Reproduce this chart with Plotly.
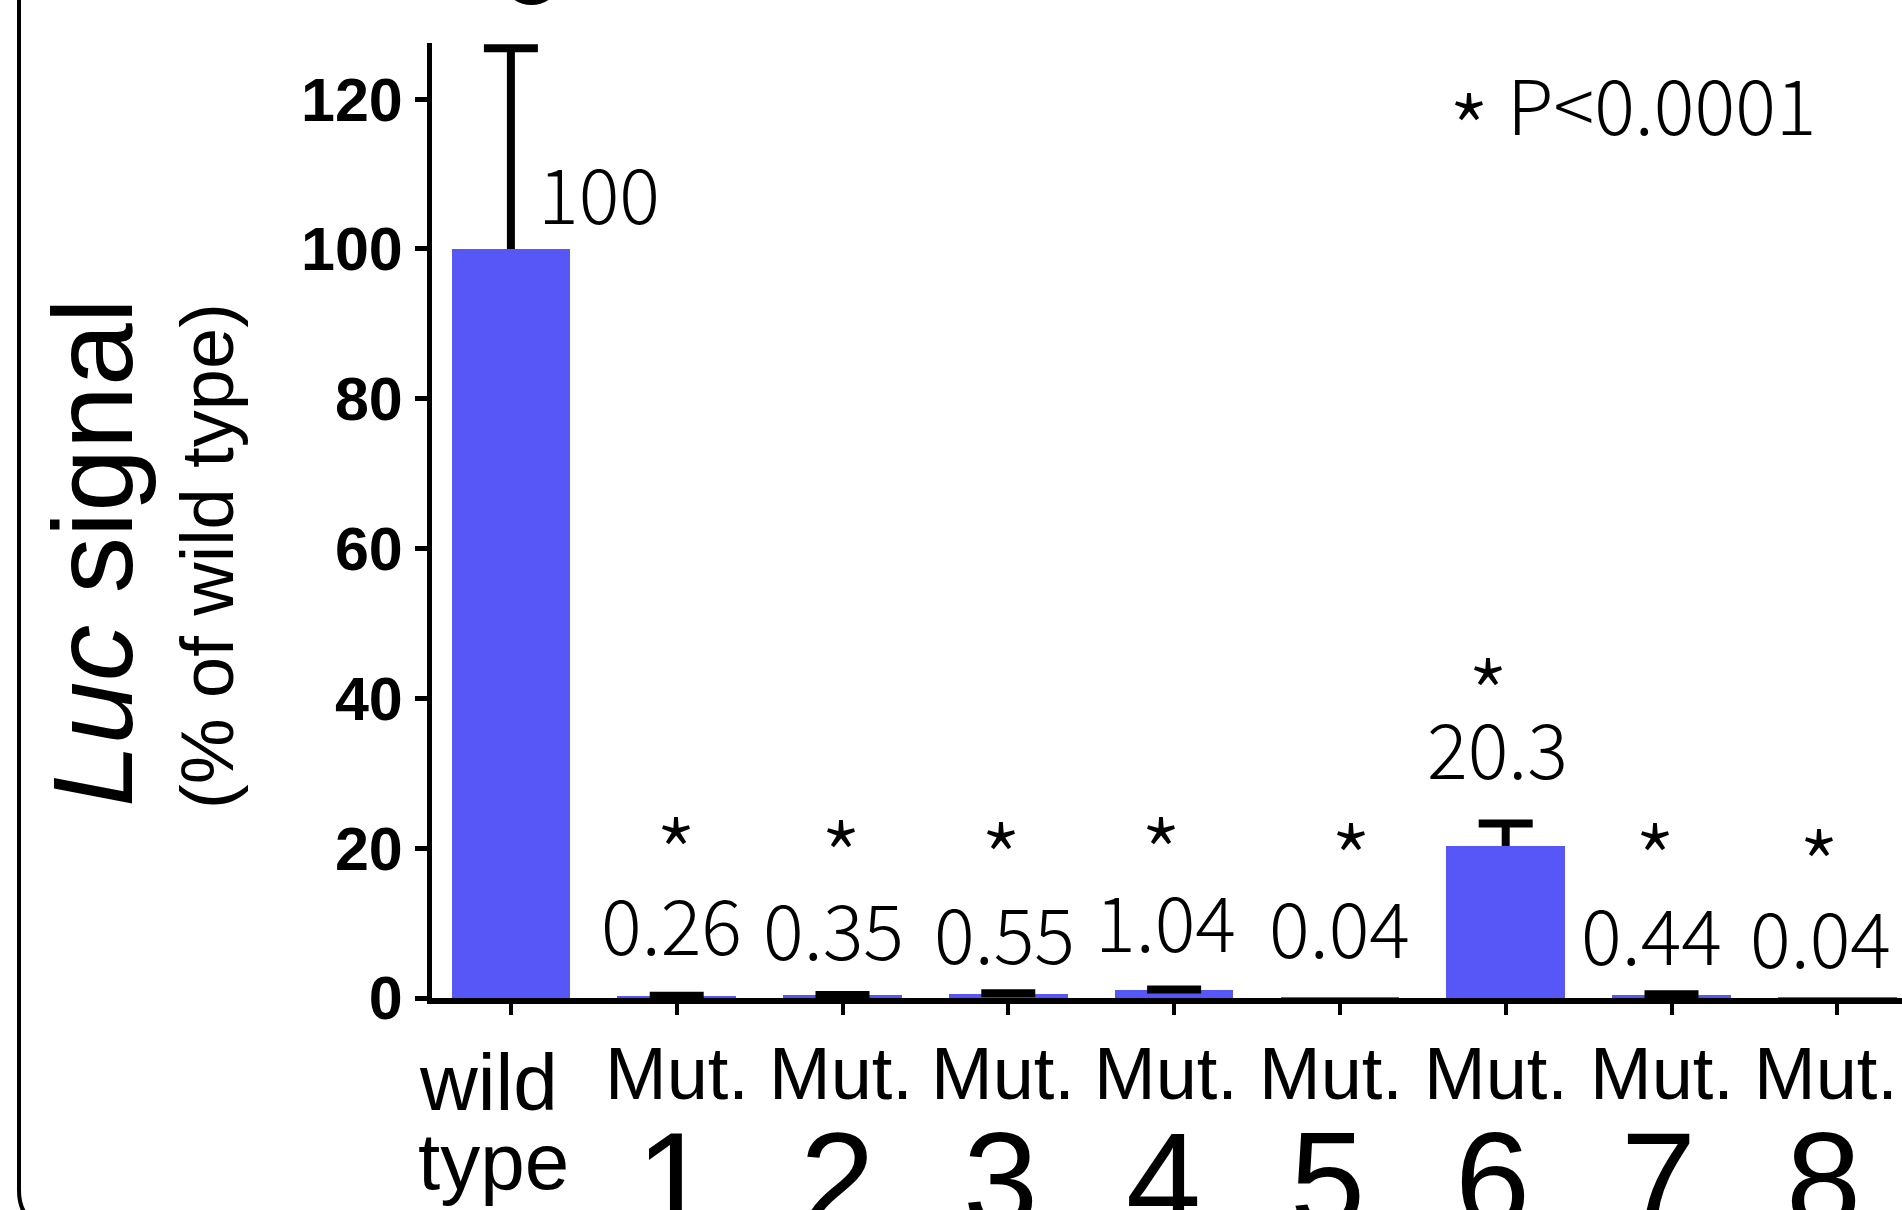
import plotly.graph_objects as go

# ---------------- data ----------------
categories = ["wild type", "Mut. 1", "Mut. 2", "Mut. 3", "Mut. 4",
              "Mut. 5", "Mut. 6", "Mut. 7", "Mut. 8"]
values = [100, 0.26, 0.35, 0.55, 1.04, 0.04, 20.3, 0.44, 0.04]
errors_up = [26.8, 0.05, 0.05, 0.1, 0.1, 0.0, 3.0, 0.05, 0.0]
value_labels = ["100", "0.26", "0.35", "0.55", "1.04", "0.04", "20.3", "0.44", "0.04"]
significant = [False, True, True, True, True, True, True, True, True]
tick_line1 = ["wild", "Mut.", "Mut.", "Mut.", "Mut.", "Mut.", "Mut.", "Mut.", "Mut."]
tick_line2 = ["type", "1", "2", "3", "4", "5", "6", "7", "8"]
y_ticks = [0, 20, 40, 60, 80, 100, 120]
y_max = 127.5
p_note = "P<0.0001"
y_title_main = "<i>Luc</i> signal"
y_title_sub = "(% of wild type)"

# ---------------- layout geometry (pixels) ----------------
W, H = 1902, 1210
L, T = 432, 43
B_PX = 998                      # bottom of plot area
PW = W - L
PH = B_PX - T
UNIT = 165.8                    # px per category
xr0 = -0.5 + (L - 428) / UNIT
xr1 = xr0 + PW / UNIT


def py(ypx):
    return (B_PX - ypx) / PH


def pxp(xpx):
    return (xpx - L) / PW


BAR_COLOR = "#5757F7"
VAL_FONT = "Noto Sans CJK SC"
VAL_SIZE = 76
STAR_SIZE = 95
VAL_OFF = 0.05      # box-centre offset of digits (em)
STAR_OFF = 0.22     # box-centre offset of asterisk (em)
ARIAL = "Liberation Sans, Arial"

x_idx = list(range(len(categories)))

fig = go.Figure()
fig.add_trace(go.Bar(x=x_idx, y=values, width=0.715,
                     marker=dict(color=BAR_COLOR, line=dict(width=0)),
                     hoverinfo="skip", showlegend=False))

# error bars (upper only), built from values and errors
cap = 27 / UNIT
ex, ey = [], []
for i, (v, e) in enumerate(zip(values, errors_up)):
    if e <= 0:
        continue
    top = v + e
    ex += [i, i, None, i - cap, i + cap, None]
    ey += [v, top, None, top, top, None]
fig.add_trace(go.Scatter(x=ex, y=ey, mode="lines",
                         line=dict(color="black", width=8),
                         hoverinfo="skip", showlegend=False))

ann = []
# value labels
label_dx = [88, -5, -9, -4, -9, 0, -8, -20, -17]
label_y = [195, 926, 931, 935, 923, 929, 750, 936, 939]
for i, t in enumerate(value_labels):
    ann.append(dict(x=i, xref="x", xshift=label_dx[i], y=py(label_y[i] - VAL_OFF * VAL_SIZE),
                    yref="paper", text=t, showarrow=False, xanchor="center", yanchor="middle",
                    font=dict(family=VAL_FONT, size=VAL_SIZE, color="black", weight=300)))
# significance stars
star_dx = [0, -1, -2, -7, -13, 11, -18, -17, -18]
star_y = [0, 830, 833, 835, 830, 836, 671, 836, 842]
for i, s in enumerate(significant):
    if not s:
        continue
    ann.append(dict(x=i, xref="x", xshift=star_dx[i], y=py(star_y[i] + STAR_OFF * STAR_SIZE),
                    yref="paper", text="*", showarrow=False, xanchor="center", yanchor="middle",
                    font=dict(family=VAL_FONT, size=STAR_SIZE, color="black", weight=300)))
# p-value note
ann.append(dict(x=pxp(1469), xref="paper", y=py(105.5 + STAR_OFF * STAR_SIZE), yref="paper",
                text="*", showarrow=False, xanchor="center", yanchor="middle",
                font=dict(family=VAL_FONT, size=STAR_SIZE, color="black", weight=300)))
ann.append(dict(x=pxp(1505), xref="paper", y=py(105.5 - VAL_OFF * VAL_SIZE), yref="paper",
                text=p_note, showarrow=False, xanchor="left", yanchor="middle",
                font=dict(family=VAL_FONT, size=VAL_SIZE, color="black", weight=300)))

# category labels (two lines)
cat_dx = [0, 0, -2, -5, -8, -9, -10, -10, -11]
for i in range(len(categories)):
    if i == 0:
        ann.append(dict(x=pxp(417), xref="paper", y=py(1110 - 0.3465 * 80), yref="paper",
                        text=tick_line1[i], showarrow=False, xanchor="left", yanchor="middle",
                        font=dict(family=ARIAL, size=80, color="black")))
        ann.append(dict(x=pxp(416), xref="paper", y=py(1189 - 0.3465 * 80), yref="paper",
                        text=tick_line2[i], showarrow=False, xanchor="left", yanchor="middle",
                        font=dict(family=ARIAL, size=80, color="black")))
    else:
        ann.append(dict(x=i, xref="x", xshift=cat_dx[i], y=py(1099 - 0.3465 * 74), yref="paper",
                        text=tick_line1[i], showarrow=False, xanchor="center", yanchor="middle",
                        font=dict(family=ARIAL, size=74, color="black")))
        ann.append(dict(x=i, xref="x", xshift=cat_dx[i] - 3,
                        y=py(1131 + 0.716 * 135 - 0.3465 * 135), yref="paper",
                        text=tick_line2[i], showarrow=False, xanchor="center", yanchor="middle",
                        font=dict(family=ARIAL, size=135, color="black")))

# y-axis title (two lines, rotated)
ann.append(dict(x=pxp(93), xref="paper", y=py(553), yref="paper", text=y_title_main,
                textangle=-90, showarrow=False, xanchor="center", yanchor="middle",
                font=dict(family=ARIAL, size=113, color="black")))
ann.append(dict(x=pxp(207), xref="paper", y=py(556), yref="paper", text=y_title_sub,
                textangle=-90, showarrow=False, xanchor="center", yanchor="middle",
                font=dict(family=ARIAL, size=74, color="black")))

# panel frame (left edge with rounded corner) and partial glyph at top
x0, yb, r = 19, 1226, 36
frame_path = (f"M {pxp(x0)},{py(-20)} L {pxp(x0)},{py(yb - r)} "
              f"Q {pxp(x0)},{py(yb)} {pxp(x0 + r)},{py(yb)} L {pxp(2000)},{py(yb)}")
shapes = [
    dict(type="path", xref="paper", yref="paper", path=frame_path,
         line=dict(color="black", width=4)),
    dict(type="circle", xref="paper", yref="paper",
         x0=pxp(507), x1=pxp(556), y0=py(2.5), y1=py(-38),
         line=dict(color="black", width=5)),
]

fig.update_layout(
    width=W, height=H,
    margin=dict(l=L, r=0, t=T, b=H - B_PX, pad=0),
    paper_bgcolor="white", plot_bgcolor="white",
    showlegend=False,
    bargap=0,
    annotations=ann,
    shapes=shapes,
    xaxis=dict(range=[xr0, xr1], tickvals=x_idx, showticklabels=False,
               ticks="outside", ticklen=11, tickwidth=4, tickcolor="black",
               showline=True, linewidth=6, linecolor="black",
               showgrid=False, zeroline=False, fixedrange=True),
    yaxis=dict(range=[0, y_max], tickvals=y_ticks, ticktext=[str(v) for v in y_ticks],
               ticks="outside", ticklen=12, tickwidth=5, tickcolor="black",
               showline=True, linewidth=5, linecolor="black",
               tickfont=dict(family=ARIAL, size=61, color="black", weight="bold"),
               showgrid=False, zeroline=False, fixedrange=True),
)

fig.write_html("out.html", config={"displayModeBar": False},
               post_script="document.body.style.margin='0';document.body.style.overflow='hidden';")
